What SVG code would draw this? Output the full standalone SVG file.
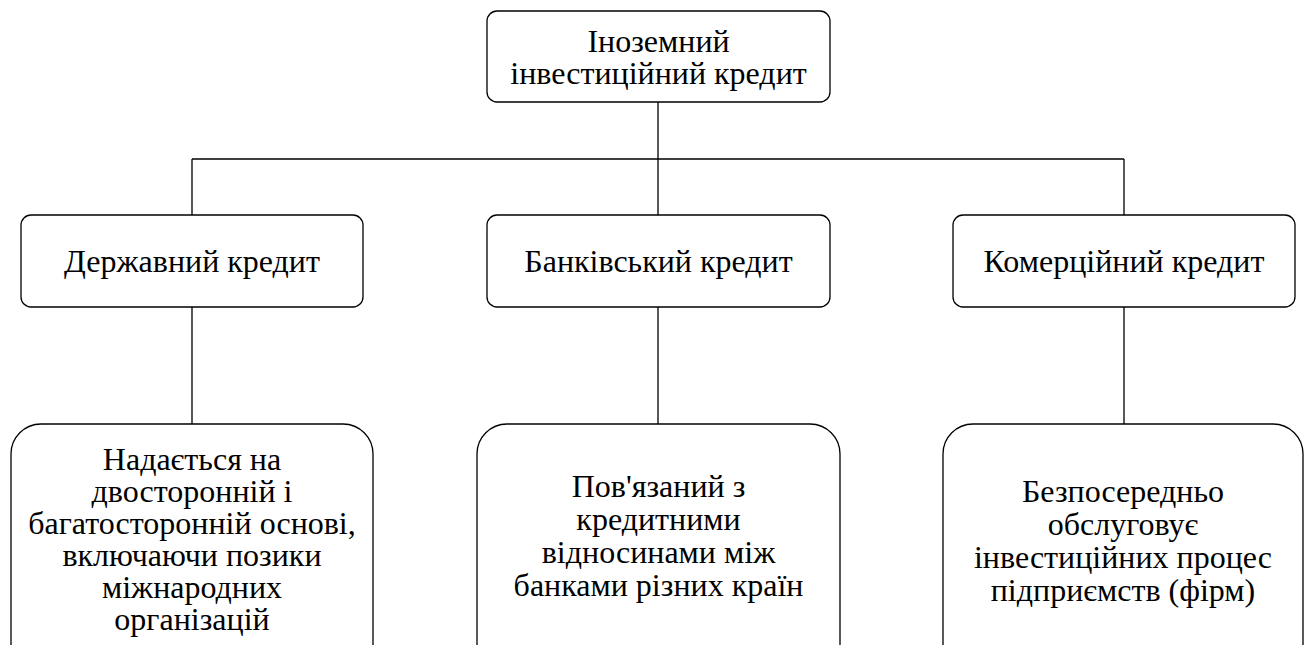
<svg xmlns="http://www.w3.org/2000/svg" width="1310" height="645" viewBox="0 0 1310 645" font-family="Liberation Serif, serif" font-size="32">
<style>
.box{fill:#fff;stroke:#000;stroke-width:1.3}
.c{stroke:#000;stroke-width:1.3;fill:none}
</style>
<rect width="1310" height="645" fill="#fff"/>
<g id="connectors">
<path class="c" d="M658,102V159M192,159H1124M192,159V215M658,159V215M1124,159V215M192,307V424M658,307V424M1124,307V424"/>
</g>
<g id="root">
<rect class="box" x="487" y="11" width="343" height="91" rx="10"/>
<text font-family="Liberation Serif, serif" text-anchor="middle" x="658.5" y="52">Іноземний</text>
<text font-family="Liberation Serif, serif" text-anchor="middle" x="658.5" y="84">інвестиційний кредит</text>
</g>
<g id="state">
<rect class="box" x="21" y="215" width="342" height="92" rx="10"/>
<text font-family="Liberation Serif, serif" text-anchor="middle" x="192" y="272">Державний кредит</text>
</g>
<g id="bank">
<rect class="box" x="487" y="215" width="343" height="92" rx="10"/>
<text font-family="Liberation Serif, serif" text-anchor="middle" x="658.5" y="272">Банківський кредит</text>
</g>
<g id="commercial">
<rect class="box" x="953" y="215" width="342" height="92" rx="10"/>
<text font-family="Liberation Serif, serif" text-anchor="middle" x="1124" y="272">Комерційний кредит</text>
</g>
<g id="state-desc">
<rect class="box" x="11" y="424" width="362" height="250" rx="30"/>
<text font-family="Liberation Serif, serif" text-anchor="middle" x="192" y="470">Надається на</text>
<text font-family="Liberation Serif, serif" text-anchor="middle" x="192" y="502">двосторонній і</text>
<text font-family="Liberation Serif, serif" text-anchor="middle" x="192" y="534">багатосторонній основі,</text>
<text font-family="Liberation Serif, serif" text-anchor="middle" x="192" y="566">включаючи позики</text>
<text font-family="Liberation Serif, serif" text-anchor="middle" x="192" y="598">міжнародних</text>
<text font-family="Liberation Serif, serif" text-anchor="middle" x="192" y="630">організацій</text>
</g>
<g id="bank-desc">
<rect class="box" x="477" y="424" width="363" height="250" rx="30"/>
<text font-family="Liberation Serif, serif" text-anchor="middle" x="658.5" y="497">Пов'язаний з</text>
<text font-family="Liberation Serif, serif" text-anchor="middle" x="658.5" y="530">кредитними</text>
<text font-family="Liberation Serif, serif" text-anchor="middle" x="658.5" y="563">відносинами між</text>
<text font-family="Liberation Serif, serif" text-anchor="middle" x="658.5" y="596">банками різних країн</text>
</g>
<g id="commercial-desc">
<rect class="box" x="943" y="424" width="360" height="250" rx="30"/>
<text font-family="Liberation Serif, serif" text-anchor="middle" x="1123" y="502">Безпосередньо</text>
<text font-family="Liberation Serif, serif" text-anchor="middle" x="1123" y="535">обслуговує</text>
<text font-family="Liberation Serif, serif" text-anchor="middle" x="1123" y="568">інвестиційних процес</text>
<text font-family="Liberation Serif, serif" text-anchor="middle" x="1123" y="601">підприємств (фірм)</text>
</g>
</svg>
